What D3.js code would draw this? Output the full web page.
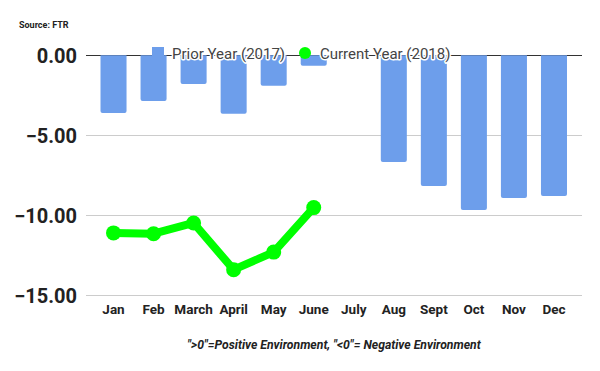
<!DOCTYPE html>
<html>
<head>
<meta charset="utf-8">
<script src="https://cdn.jsdelivr.net/npm/d3@7"></script>
<style>
html,body{margin:0;padding:0;background:#fff;}
svg{display:block;font-family:Roboto, "Noto Sans", sans-serif;}
</style>
</head>
<body>
<svg id="chart" width="600" height="371"></svg>
<script>
const months = ["Jan","Feb","March","April","May","June","July","Aug","Sept","Oct","Nov","Dec"];
const prior2017 = [-3.6,-2.86,-1.79,-3.65,-1.9,-0.65,null,-6.67,-8.17,-9.67,-8.92,-8.79];
const current2018 = [-11.1,-11.15,-10.48,-13.4,-12.3,-9.52,null,null,null,null,null,null];
const yTicks = [0,-5,-10,-15];
const seriesNames = ["Prior Year (2017)","Current Year (2018)"];

const svg = d3.select("#chart");
const x = d3.scaleBand().domain(months).range([93.5,574]).paddingInner(0.35).paddingOuter(0.175);
const y = d3.scaleLinear().domain([-15,0]).range([295.3,55.3]);

// gridlines
svg.append("g").selectAll("line").data(yTicks).join("line")
  .attr("x1",86).attr("x2",582)
  .attr("y1",d=>Math.round(y(d))+0.5).attr("y2",d=>Math.round(y(d))+0.5)
  .attr("stroke",d=>d===0?"#333":"#ccc").attr("stroke-width",1);

// y axis labels
const yAxis = d3.axisLeft(y).tickValues(yTicks).tickFormat(d3.format(".2f")).tickSize(0).tickPadding(0);
const ya = svg.append("g").attr("transform","translate(77,0)").call(yAxis);
ya.select(".domain").remove();
ya.selectAll("text").attr("font-size",20).attr("font-weight","bold").attr("fill","#222")
  .attr("font-family","Roboto, sans-serif").attr("dy","0.36em");

// bars
const barData = months.map((m,i)=>({m,v:prior2017[i]})).filter(d=>d.v!=null);
svg.append("g").selectAll("path").data(barData).join("path")
  .attr("fill","#6d9eeb")
  .attr("d",d=>{
    const x0=x(d.m), w=x.bandwidth(), y0=y(0), y1=y(d.v), r=2;
    return `M${x0},${y0}H${x0+w}V${y1-r}Q${x0+w},${y1} ${x0+w-r},${y1}H${x0+r}Q${x0},${y1} ${x0},${y1-r}Z`;
  });

// x labels
const xAxis = d3.axisBottom(x).tickSize(0).tickPadding(0);
const xa = svg.append("g").attr("transform","translate(0,304.5)").call(xAxis);
xa.select(".domain").remove();
xa.selectAll("text").attr("font-size",13.5).attr("font-weight","bold").attr("fill","#222")
  .attr("font-family","Roboto, sans-serif").attr("dy","0.71em");

// line
const lineData = months.map((m,i)=>({m,v:current2018[i]})).filter(d=>d.v!=null);
const line = d3.line().x(d=>x(d.m)+x.bandwidth()/2).y(d=>y(d.v));
svg.append("path").datum(lineData).attr("d",line)
  .attr("fill","none").attr("stroke","#00ff00").attr("stroke-width",8).attr("stroke-linejoin","round");
svg.append("g").selectAll("circle").data(lineData).join("circle")
  .attr("cx",d=>x(d.m)+x.bandwidth()/2).attr("cy",d=>y(d.v)).attr("r",7.5).attr("fill","#00ff00");

// legend
const lg = svg.append("g");
lg.append("rect").attr("x",152).attr("y",47).attr("width",12).attr("height",12).attr("fill","#6d9eeb");
lg.append("text").attr("x",172).attr("y",59).text(seriesNames[0]);
lg.append("circle").attr("cx",305).attr("cy",53).attr("r",6).attr("fill","#00ff00");
lg.append("text").attr("x",320).attr("y",59).text(seriesNames[1]);
lg.selectAll("text").attr("font-size",15).attr("fill","#444")
  .attr("stroke","#fff").attr("stroke-width",3).attr("paint-order","stroke").attr("stroke-linejoin","round");

// source
svg.append("text").attr("x",19).attr("y",28).attr("font-size",9).attr("font-weight","bold").attr("fill","#222").text("Source: FTR");

// footnote
svg.append("text").attr("x",334).attr("y",349).attr("text-anchor","middle").attr("font-size",12.2)
  .attr("font-weight","bold").attr("font-style","italic").attr("fill","#222")
  .text('">0"=Positive Environment, "<0"= Negative Environment');
</script>
</body>
</html>
